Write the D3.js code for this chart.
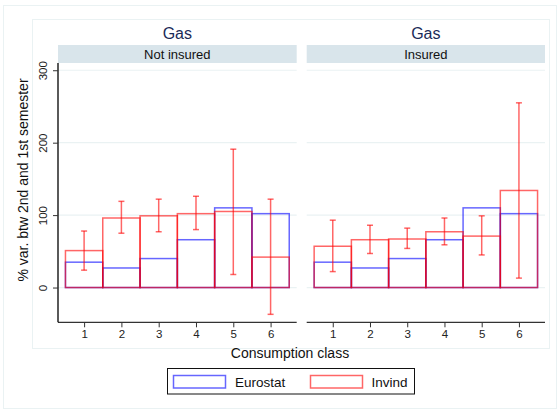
<!DOCTYPE html>
<html><head><meta charset="utf-8">
<script src="https://cdn.jsdelivr.net/npm/d3@7"></script>
<style>body{margin:0;background:#fff}svg{display:block;font-family:"Liberation Sans",Arial,sans-serif}</style>
</head><body><svg id="c" width="560" height="411"></svg>
<script>
const classes = [1,2,3,4,5,6];
const panels = ["Not insured","Insured"];
const eurostat = [35,27,40,66,110,102];
const invindNot = [51,96,99,102,105,42];
const invindNotLo = [24,75,77,80,18,-37];
const invindNotHi = [78,119,122,126,191,122];
const invindIns = [57,66,67,77,71,134];
const invindInsLo = [22,47,54,59,45,13];
const invindInsHi = [93,86,82,96,99,255];
const yTicks = [0,100,200,300];

const svg = d3.select("#c");
const blue = "rgba(0,0,255,0.6)", red = "rgba(255,0,0,0.6)";
const grid = "#eaf2f3";

svg.append("rect").attr("x",3.5).attr("y",5.5).attr("width",553).attr("height",403).attr("fill","none").attr("stroke",grid);
svg.append("rect").attr("x",32.5).attr("y",19.5).attr("width",517).attr("height",329).attr("fill","none").attr("stroke",grid);

const y = d3.scaleLinear().domain([-48,310]).range([322.3,63]);
const panelX = [[58,296.7],[306.7,545]];
const data = [
  {inv:invindNot, lo:invindNotLo, hi:invindNotHi},
  {inv:invindIns, lo:invindInsLo, hi:invindInsHi}
];

panels.forEach((p,pi)=>{
  const [x0,x1] = panelX[pi];
  const x = d3.scaleLinear().domain([0.3,6.7]).range([x0,x1]);
  const g = svg.append("g");
  g.append("text").attr("x",(x0+x1)/2).attr("y",39).attr("text-anchor","middle")
    .attr("font-size",16).attr("fill","#1a2b58").text("Gas");
  g.append("rect").attr("x",x0).attr("y",45).attr("width",x1-x0).attr("height",18).attr("fill","#d9e5eb");
  g.append("text").attr("x",(x0+x1)/2).attr("y",58.5).attr("text-anchor","middle")
    .attr("font-size",13).attr("fill","#111").text(p);
  g.selectAll(".gl").data(yTicks).enter().append("line")
    .attr("x1",x0).attr("x2",x1).attr("y1",d=>y(d)).attr("y2",d=>y(d))
    .attr("stroke",grid).attr("stroke-width",1.2);
  g.selectAll(".be").data(classes).enter().append("rect")
    .attr("x",d=>x(d-0.5)).attr("width",d=>x(d+0.5)-x(d-0.5))
    .attr("y",(d,i)=>y(eurostat[i])).attr("height",(d,i)=>y(0)-y(eurostat[i]))
    .attr("fill","none").attr("stroke",blue).attr("stroke-width",1.5);
  const D = data[pi];
  g.selectAll(".bi").data(classes).enter().append("rect")
    .attr("x",d=>x(d-0.5)).attr("width",d=>x(d+0.5)-x(d-0.5))
    .attr("y",(d,i)=>y(D.inv[i])).attr("height",(d,i)=>y(0)-y(D.inv[i]))
    .attr("fill","none").attr("stroke",red).attr("stroke-width",1.5);
  const eb = g.selectAll(".eb").data(classes).enter().append("g");
  eb.append("line").attr("x1",d=>x(d)).attr("x2",d=>x(d))
    .attr("y1",(d,i)=>y(D.lo[i])).attr("y2",(d,i)=>y(D.hi[i]))
    .attr("stroke",red).attr("stroke-width",1.5);
  ["lo","hi"].forEach(k=>{
    eb.append("line").attr("x1",d=>x(d)-3).attr("x2",d=>x(d)+3)
      .attr("y1",(d,i)=>y(D[k][i])).attr("y2",(d,i)=>y(D[k][i]))
      .attr("stroke",red).attr("stroke-width",1.5);
  });
  const xa = g.append("g").attr("transform","translate(0,322.3)")
    .call(d3.axisBottom(x).tickValues(classes).tickSize(5).tickPadding(3).tickFormat(d3.format("d")));
  xa.select(".domain").attr("stroke","#333").attr("stroke-width",1.3).attr("d",`M${x0},0H${x1}`);
  xa.selectAll(".tick line").attr("stroke","#333");
  xa.selectAll("text").attr("font-size",11.5).attr("fill","#222").attr("font-family","Liberation Sans, Arial, sans-serif");
  if(pi===0){
    const ya = g.append("g").attr("transform",`translate(${x0},0)`)
      .call(d3.axisLeft(y).tickValues(yTicks).tickSize(5).tickPadding(3));
    ya.select(".domain").attr("stroke","#000").attr("stroke-width",1.3).attr("d","M0,63V322.3");
    ya.selectAll(".tick line").attr("stroke","#333");
    ya.selectAll("text").attr("font-size",11.5).attr("fill","#222")
      .attr("font-family","Liberation Sans, Arial, sans-serif")
      .attr("text-anchor","middle").attr("dy",0).attr("x",0)
      .attr("transform","translate(-14,0) rotate(-90)")
      .attr("dominant-baseline","middle");
  }
});

svg.append("text").attr("transform","translate(28,180) rotate(-90)").attr("text-anchor","middle")
  .attr("font-size",14).attr("fill","#111").text("% var. btw 2nd and 1st semester");
svg.append("text").attr("x",290).attr("y",358).attr("text-anchor","middle")
  .attr("font-size",14).attr("fill","#111").text("Consumption class");

const lg = svg.append("g");
lg.append("rect").attr("x",167.5).attr("y",368.5).attr("width",247).attr("height",25.5)
  .attr("fill","#fff").attr("stroke","#111").attr("stroke-width",1);
const keys = [{n:"Eurostat",c:blue,x:173.5,tx:235},{n:"Invind",c:red,x:310.5,tx:371.5}];
keys.forEach(k=>{
  lg.append("rect").attr("x",k.x).attr("y",375.5).attr("width",52).attr("height",12.5)
    .attr("fill","none").attr("stroke",k.c).attr("stroke-width",1.5);
  lg.append("text").attr("x",k.tx).attr("y",386.5).attr("font-size",13.5).attr("fill","#111").text(k.n);
});
</script></body></html>
